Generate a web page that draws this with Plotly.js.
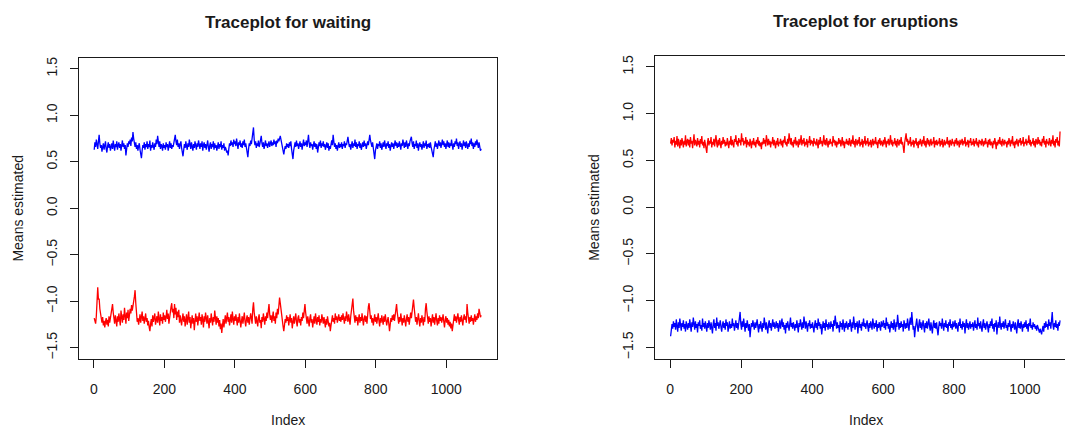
<!DOCTYPE html>
<html>
<head>
<meta charset="utf-8">
<script src="https://cdn.plot.ly/plotly-3.0.1.min.js"></script>
<style>
html,body{margin:0;padding:0;overflow:hidden;background:#fff;width:1065px;height:428px;}
#chart{width:1080px;height:428px;}
</style>
</head>
<body>
<div id="chart"></div>
<script>
// Sampled draws: every 2nd iteration, starting at 1
const indexStart = 1;
const indexStep = 2;

const panelTitles = ["Traceplot for waiting", "Traceplot for eruptions"];
const xTitle = "Index";
const yTitle = "Means estimated";
const xTickVals = [0, 200, 400, 600, 800, 1000];
const yTickVals = [-1.5, -1.0, -0.5, 0.0, 0.5, 1.0, 1.5];

// Waiting: component 1 (blue, upper)
const waitingBlue = [
0.63,0.71,0.66,0.74,0.69,0.64,0.72,0.79,0.70,0.65,0.68,0.61,0.66,0.70,0.63,0.68,0.72,0.64,0.60,0.67,0.71,0.65,0.69,0.62,0.67,
0.70,0.64,0.73,0.67,0.62,0.69,0.66,0.72,0.63,0.68,0.71,0.65,0.69,0.62,0.67,0.73,0.66,0.70,0.64,0.68,0.57,0.63,0.70,0.66,0.72,
0.69,0.74,0.67,0.76,0.72,0.82,0.75,0.70,0.66,0.71,0.64,0.68,0.62,0.67,0.70,0.63,0.60,0.54,0.62,0.68,0.65,0.71,0.63,0.69,0.66,
0.72,0.64,0.69,0.66,0.73,0.62,0.68,0.65,0.71,0.67,0.63,0.70,0.66,0.74,0.69,0.78,0.71,0.66,0.72,0.64,0.69,0.67,0.62,0.70,0.65,
0.68,0.63,0.71,0.66,0.69,0.62,0.67,0.72,0.65,0.70,0.64,0.68,0.66,0.71,0.73,0.79,0.72,0.68,0.74,0.66,0.70,0.64,0.69,0.72,0.65,
0.60,0.56,0.63,0.69,0.65,0.72,0.67,0.63,0.70,0.66,0.74,0.68,0.64,0.71,0.67,0.62,0.69,0.65,0.72,0.68,0.63,0.70,0.66,0.73,0.67,
0.64,0.70,0.66,0.72,0.62,0.68,0.71,0.65,0.69,0.63,0.67,0.73,0.66,0.61,0.68,0.71,0.64,0.69,0.66,0.72,0.63,0.70,0.65,0.68,0.62,
0.67,0.71,0.64,0.69,0.66,0.72,0.63,0.68,0.65,0.70,0.62,0.66,0.64,0.60,0.62,0.57,0.64,0.70,0.67,0.73,0.68,0.71,0.66,0.74,0.69,
0.72,0.67,0.75,0.69,0.64,0.71,0.68,0.73,0.66,0.70,0.65,0.72,0.68,0.74,0.66,0.70,0.63,0.60,0.55,0.64,0.70,0.67,0.73,0.69,0.75,
0.78,0.87,0.74,0.68,0.72,0.65,0.70,0.67,0.73,0.66,0.69,0.72,0.78,0.70,0.66,0.71,0.64,0.68,0.73,0.67,0.70,0.65,0.69,0.72,0.66,
0.70,0.73,0.67,0.71,0.68,0.74,0.69,0.72,0.66,0.73,0.70,0.75,0.72,0.76,0.78,0.74,0.70,0.66,0.62,0.58,0.63,0.67,0.64,0.70,0.66,
0.69,0.65,0.71,0.67,0.72,0.64,0.60,0.53,0.62,0.68,0.71,0.66,0.73,0.67,0.70,0.64,0.69,0.72,0.66,0.70,0.63,0.68,0.74,0.67,0.71,
0.68,0.73,0.66,0.72,0.79,0.70,0.65,0.71,0.67,0.69,0.63,0.68,0.72,0.66,0.70,0.64,0.69,0.60,0.66,0.71,0.67,0.73,0.65,0.70,0.67,
0.72,0.66,0.69,0.63,0.68,0.71,0.65,0.70,0.62,0.67,0.64,0.70,0.73,0.68,0.79,0.72,0.66,0.70,0.64,0.68,0.62,0.67,0.71,0.65,0.69,
0.66,0.71,0.64,0.69,0.67,0.72,0.65,0.70,0.68,0.73,0.77,0.71,0.66,0.69,0.63,0.68,0.72,0.65,0.70,0.67,0.74,0.66,0.71,0.64,0.69,
0.67,0.72,0.65,0.70,0.63,0.68,0.71,0.66,0.73,0.67,0.70,0.64,0.69,0.72,0.68,0.74,0.79,0.73,0.69,0.66,0.71,0.64,0.60,0.53,0.62,
0.66,0.70,0.64,0.69,0.67,0.72,0.65,0.70,0.63,0.68,0.71,0.66,0.73,0.68,0.64,0.70,0.67,0.72,0.65,0.69,0.62,0.67,0.71,0.66,0.70,
0.64,0.69,0.73,0.67,0.71,0.65,0.70,0.66,0.72,0.68,0.63,0.70,0.67,0.74,0.69,0.65,0.71,0.66,0.73,0.68,0.64,0.70,0.67,0.72,0.75,
0.77,0.70,0.66,0.72,0.64,0.69,0.67,0.73,0.65,0.70,0.62,0.68,0.71,0.66,0.69,0.63,0.68,0.72,0.65,0.70,0.67,0.73,0.64,0.69,0.66,
0.70,0.65,0.71,0.66,0.62,0.59,0.55,0.63,0.68,0.72,0.66,0.70,0.64,0.69,0.73,0.67,0.71,0.65,0.69,0.74,0.68,0.72,0.66,0.70,0.64,
0.69,0.73,0.66,0.71,0.65,0.70,0.67,0.74,0.68,0.63,0.70,0.66,0.72,0.69,0.75,0.67,0.71,0.64,0.69,0.72,0.66,0.70,0.63,0.68,0.73,
0.67,0.71,0.65,0.72,0.68,0.64,0.70,0.66,0.73,0.69,0.75,0.67,0.71,0.64,0.70,0.66,0.72,0.68,0.74,0.69,0.65,0.71,0.67,0.62,0.64
];

// Waiting: component 2 (red, lower)
const waitingRed = [
-1.18,-1.20,-1.24,-1.16,-1.05,-0.85,-0.98,-0.97,-1.08,-1.14,-1.19,-1.23,-1.17,-1.26,-1.21,-1.28,-1.22,-1.18,-1.25,-1.20,-1.27,-1.16,-1.23,-1.19,-1.12,
-1.08,-1.03,-1.12,-1.18,-1.24,-1.15,-1.21,-1.27,-1.16,-1.22,-1.13,-1.19,-1.26,-1.10,-1.17,-1.23,-1.14,-1.20,-1.07,-1.16,-1.24,-1.12,-1.18,-1.09,-1.21,
-1.15,-1.08,-1.13,-1.04,-1.10,-1.02,-1.00,-0.95,-0.88,-1.02,-1.16,-1.22,-1.18,-1.25,-1.20,-1.14,-1.23,-1.17,-1.11,-1.21,-1.16,-1.24,-1.19,-1.13,-1.22,
-1.18,-1.26,-1.21,-1.28,-1.32,-1.24,-1.19,-1.27,-1.15,-1.22,-1.18,-1.13,-1.25,-1.20,-1.16,-1.23,-1.11,-1.19,-1.26,-1.14,-1.21,-1.17,-1.24,-1.12,-1.20,
-1.15,-1.22,-1.17,-1.09,-1.19,-1.13,-1.24,-1.16,-1.10,-1.06,-1.02,-1.12,-1.08,-1.18,-1.03,-1.14,-1.07,-1.20,-1.11,-1.17,-1.09,-1.23,-1.15,-1.19,-1.26,
-1.18,-1.13,-1.22,-1.16,-1.27,-1.20,-1.14,-1.25,-1.19,-1.11,-1.23,-1.17,-1.29,-1.21,-1.15,-1.24,-1.18,-1.31,-1.20,-1.13,-1.22,-1.16,-1.26,-1.19,-1.12,
-1.21,-1.17,-1.25,-1.14,-1.20,-1.28,-1.16,-1.22,-1.12,-1.19,-1.24,-1.15,-1.21,-1.29,-1.18,-1.23,-1.13,-1.20,-1.26,-1.17,-1.22,-1.10,-1.19,-1.25,-1.16,
-1.23,-1.18,-1.27,-1.20,-1.30,-1.24,-1.34,-1.26,-1.19,-1.28,-1.21,-1.15,-1.24,-1.18,-1.12,-1.22,-1.17,-1.26,-1.20,-1.14,-1.23,-1.11,-1.19,-1.25,-1.16,
-1.21,-1.14,-1.20,-1.26,-1.17,-1.23,-1.13,-1.19,-1.28,-1.21,-1.16,-1.24,-1.18,-1.12,-1.22,-1.27,-1.19,-1.15,-1.23,-1.17,-1.25,-1.20,-1.13,-1.18,-1.24,
-1.08,-1.01,-1.12,-1.19,-1.24,-1.16,-1.22,-1.27,-1.18,-1.14,-1.23,-1.20,-1.29,-1.17,-1.22,-1.13,-1.19,-1.25,-1.16,-1.21,-1.12,-1.18,-1.10,-1.03,-1.14,
-1.20,-1.15,-1.23,-1.17,-1.11,-1.21,-1.16,-1.24,-1.12,-1.18,-1.08,-1.14,-1.05,-0.96,-1.02,-1.10,-1.16,-1.22,-1.27,-1.32,-1.25,-1.19,-1.23,-1.15,-1.21,
-1.17,-1.26,-1.20,-1.14,-1.23,-1.18,-1.29,-1.21,-1.16,-1.24,-1.19,-1.13,-1.22,-1.27,-1.18,-1.15,-1.23,-1.19,-1.26,-1.17,-1.21,-1.12,-1.18,-1.09,-1.03,
-1.12,-1.19,-1.24,-1.16,-1.22,-1.27,-1.18,-1.14,-1.23,-1.19,-1.28,-1.21,-1.16,-1.24,-1.13,-1.20,-1.25,-1.17,-1.22,-1.15,-1.26,-1.19,-1.23,-1.14,-1.20,
-1.24,-1.17,-1.22,-1.28,-1.19,-1.25,-1.16,-1.21,-1.27,-1.23,-1.32,-1.26,-1.20,-1.15,-1.22,-1.18,-1.24,-1.13,-1.20,-1.16,-1.23,-1.19,-1.14,-1.21,-1.17,
-1.22,-1.15,-1.20,-1.13,-1.19,-1.24,-1.16,-1.21,-1.11,-1.17,-1.22,-1.14,-1.19,-1.25,-1.16,-1.08,-1.03,-0.97,-1.10,-1.18,-1.23,-1.15,-1.21,-1.17,-1.26,
-1.19,-1.14,-1.23,-1.17,-1.21,-1.13,-1.20,-1.26,-1.18,-1.15,-1.22,-1.16,-1.24,-1.10,-1.06,-1.02,-1.11,-1.19,-1.15,-1.23,-1.18,-1.26,-1.20,-1.14,-1.22,
-1.17,-1.24,-1.19,-1.13,-1.21,-1.27,-1.18,-1.23,-1.15,-1.20,-1.25,-1.16,-1.22,-1.14,-1.19,-1.26,-1.21,-1.17,-1.24,-1.32,-1.25,-1.18,-1.22,-1.15,-1.20,
-1.14,-1.21,-1.16,-1.09,-1.03,-1.12,-1.19,-1.24,-1.17,-1.22,-1.13,-1.20,-1.26,-1.18,-1.23,-1.15,-1.21,-1.27,-1.19,-1.14,-1.22,-1.17,-1.25,-1.20,-1.12,
-1.18,-1.08,-1.02,-0.98,-1.07,-1.16,-1.22,-1.17,-1.25,-1.19,-1.13,-1.21,-1.27,-1.18,-1.23,-1.15,-1.20,-1.26,-1.17,-1.22,-1.08,-1.02,-1.11,-1.19,-1.24,
-1.16,-1.22,-1.18,-1.27,-1.20,-1.14,-1.23,-1.17,-1.25,-1.19,-1.13,-1.21,-1.26,-1.18,-1.24,-1.15,-1.21,-1.17,-1.23,-1.19,-1.14,-1.22,-1.28,-1.20,-1.16,
-1.23,-1.18,-1.25,-1.20,-1.27,-1.22,-1.29,-1.24,-1.32,-1.25,-1.19,-1.14,-1.21,-1.16,-1.23,-1.18,-1.13,-1.20,-1.25,-1.17,-1.22,-1.15,-1.21,-1.26,-1.18,
-1.14,-1.20,-1.16,-1.23,-1.03,-1.12,-1.19,-1.24,-1.17,-1.22,-1.15,-1.21,-1.18,-1.25,-1.19,-1.14,-1.22,-1.16,-1.20,-1.13,-1.18,-1.08,-1.12,-1.17,-1.15
];

// Eruptions: component 1 (red, upper)
const eruptionsRed = [
0.68,0.74,0.66,0.72,0.69,0.75,0.64,0.71,0.67,0.76,0.65,0.73,0.68,0.63,0.72,0.66,0.74,0.69,0.64,0.71,0.67,0.77,0.65,0.70,0.73,
0.66,0.72,0.64,0.75,0.68,0.71,0.63,0.70,0.78,0.66,0.72,0.69,0.65,0.74,0.67,0.71,0.64,0.73,0.68,0.76,0.66,0.70,0.63,0.72,0.67,
0.64,0.58,0.69,0.74,0.66,0.71,0.68,0.75,0.64,0.70,0.67,0.73,0.65,0.71,0.77,0.68,0.64,0.72,0.66,0.74,0.69,0.63,0.71,0.67,0.75,
0.68,0.72,0.65,0.70,0.66,0.74,0.69,0.63,0.71,0.67,0.76,0.66,0.72,0.68,0.64,0.73,0.70,0.77,0.67,0.71,0.65,0.74,0.69,0.72,0.66,
0.79,0.70,0.74,0.66,0.71,0.68,0.75,0.64,0.72,0.67,0.70,0.65,0.73,0.69,0.63,0.71,0.67,0.74,0.66,0.70,0.64,0.72,0.68,0.75,0.66,
0.71,0.65,0.69,0.62,0.70,0.67,0.74,0.68,0.72,0.65,0.77,0.69,0.66,0.73,0.67,0.71,0.64,0.70,0.68,0.75,0.66,0.72,0.69,0.63,0.71,
0.67,0.74,0.65,0.70,0.68,0.73,0.66,0.71,0.64,0.72,0.69,0.76,0.67,0.70,0.65,0.73,0.68,0.79,0.71,0.67,0.74,0.66,0.70,0.64,0.72,
0.68,0.75,0.66,0.71,0.69,0.64,0.73,0.67,0.70,0.77,0.66,0.72,0.68,0.74,0.65,0.70,0.67,0.73,0.64,0.71,0.69,0.76,0.66,0.72,0.68,
0.71,0.65,0.74,0.68,0.70,0.66,0.73,0.69,0.63,0.72,0.67,0.75,0.68,0.71,0.65,0.70,0.77,0.67,0.72,0.66,0.74,0.69,0.64,0.71,0.67,
0.73,0.68,0.70,0.65,0.76,0.69,0.72,0.66,0.71,0.64,0.70,0.67,0.74,0.68,0.72,0.65,0.69,0.75,0.66,0.71,0.63,0.70,0.68,0.73,0.67,
0.71,0.66,0.74,0.69,0.65,0.72,0.68,0.77,0.67,0.71,0.64,0.73,0.69,0.66,0.72,0.68,0.75,0.65,0.70,0.67,0.73,0.64,0.71,0.68,0.76,
0.66,0.71,0.68,0.74,0.65,0.70,0.67,0.72,0.64,0.69,0.73,0.66,0.71,0.68,0.75,0.67,0.70,0.63,0.72,0.68,0.74,0.66,0.71,0.69,0.65,
0.72,0.67,0.75,0.69,0.64,0.71,0.68,0.73,0.66,0.70,0.77,0.67,0.72,0.65,0.70,0.68,0.74,0.66,0.71,0.64,0.73,0.69,0.66,0.72,0.68,
0.75,0.67,0.70,0.64,0.58,0.69,0.74,0.79,0.70,0.73,0.66,0.71,0.68,0.75,0.65,0.70,0.67,0.72,0.64,0.71,0.68,0.74,0.66,0.70,0.63,
0.71,0.67,0.73,0.69,0.65,0.72,0.68,0.76,0.66,0.71,0.64,0.70,0.74,0.67,0.72,0.65,0.69,0.73,0.66,0.70,0.68,0.75,0.64,0.71,0.67,
0.72,0.66,0.70,0.68,0.74,0.65,0.71,0.67,0.73,0.64,0.69,0.72,0.66,0.70,0.68,0.75,0.67,0.71,0.64,0.72,0.69,0.66,0.73,0.68,0.70,
0.65,0.72,0.68,0.74,0.66,0.71,0.69,0.64,0.72,0.67,0.70,0.73,0.66,0.71,0.68,0.75,0.65,0.70,0.67,0.72,0.64,0.71,0.69,0.74,0.66,
0.70,0.67,0.73,0.65,0.71,0.68,0.74,0.66,0.70,0.64,0.72,0.68,0.71,0.66,0.73,0.69,0.65,0.71,0.67,0.74,0.68,0.70,0.64,0.72,0.67,
0.73,0.66,0.70,0.68,0.63,0.71,0.67,0.74,0.69,0.62,0.70,0.66,0.72,0.68,0.75,0.67,0.71,0.65,0.73,0.69,0.66,0.72,0.68,0.70,0.64,
0.71,0.67,0.74,0.69,0.65,0.72,0.68,0.76,0.66,0.70,0.63,0.71,0.67,0.73,0.68,0.65,0.72,0.69,0.74,0.66,0.71,0.68,0.75,0.65,0.70,
0.68,0.73,0.66,0.71,0.69,0.77,0.67,0.72,0.65,0.70,0.68,0.74,0.66,0.71,0.64,0.73,0.69,0.67,0.75,0.68,0.72,0.66,0.70,0.65,0.73,
0.69,0.76,0.67,0.71,0.64,0.73,0.68,0.70,0.66,0.74,0.69,0.65,0.72,0.68,0.77,0.66,0.71,0.64,0.73,0.69,0.75,0.66,0.71,0.65,0.81
];

// Eruptions: component 2 (blue, lower)
const eruptionsBlue = [
-1.38,-1.33,-1.25,-1.30,-1.22,-1.28,-1.24,-1.31,-1.20,-1.27,-1.33,-1.23,-1.29,-1.19,-1.26,-1.32,-1.24,-1.28,-1.21,-1.30,-1.25,-1.33,-1.22,-1.27,-1.31,
-1.24,-1.29,-1.20,-1.27,-1.33,-1.23,-1.28,-1.18,-1.26,-1.31,-1.22,-1.29,-1.25,-1.34,-1.23,-1.27,-1.21,-1.30,-1.26,-1.32,-1.19,-1.28,-1.24,-1.30,-1.22,
-1.27,-1.33,-1.24,-1.29,-1.21,-1.26,-1.31,-1.23,-1.28,-1.35,-1.25,-1.20,-1.29,-1.24,-1.32,-1.18,-1.27,-1.23,-1.30,-1.25,-1.21,-1.28,-1.33,-1.26,-1.22,
-1.29,-1.24,-1.31,-1.20,-1.27,-1.23,-1.33,-1.26,-1.22,-1.30,-1.25,-1.29,-1.19,-1.27,-1.24,-1.32,-1.26,-1.21,-1.29,-1.24,-1.31,-1.23,-1.18,-1.12,-1.25,
-1.31,-1.22,-1.28,-1.19,-1.26,-1.33,-1.24,-1.29,-1.21,-1.27,-1.32,-1.25,-1.39,-1.30,-1.24,-1.28,-1.21,-1.26,-1.31,-1.23,-1.29,-1.25,-1.20,-1.28,-1.34,
-1.25,-1.30,-1.22,-1.27,-1.33,-1.24,-1.29,-1.18,-1.26,-1.31,-1.23,-1.28,-1.35,-1.25,-1.21,-1.29,-1.24,-1.32,-1.27,-1.20,-1.28,-1.23,-1.30,-1.26,-1.22,
-1.29,-1.24,-1.33,-1.27,-1.21,-1.30,-1.25,-1.19,-1.28,-1.23,-1.31,-1.26,-1.35,-1.24,-1.29,-1.22,-1.27,-1.32,-1.25,-1.18,-1.28,-1.24,-1.30,-1.23,-1.27,
-1.32,-1.25,-1.29,-1.21,-1.27,-1.34,-1.24,-1.28,-1.20,-1.26,-1.31,-1.23,-1.29,-1.17,-1.25,-1.30,-1.22,-1.28,-1.33,-1.24,-1.27,-1.21,-1.30,-1.25,-1.29,
-1.23,-1.28,-1.34,-1.26,-1.21,-1.29,-1.24,-1.31,-1.19,-1.27,-1.23,-1.30,-1.25,-1.36,-1.27,-1.22,-1.29,-1.24,-1.32,-1.20,-1.28,-1.25,-1.31,-1.23,-1.27,
-1.30,-1.22,-1.28,-1.25,-1.33,-1.21,-1.27,-1.16,-1.25,-1.30,-1.23,-1.29,-1.26,-1.34,-1.22,-1.28,-1.24,-1.31,-1.20,-1.27,-1.33,-1.24,-1.29,-1.22,-1.26,
-1.31,-1.24,-1.28,-1.20,-1.27,-1.33,-1.23,-1.29,-1.17,-1.26,-1.31,-1.24,-1.28,-1.22,-1.35,-1.26,-1.21,-1.29,-1.25,-1.32,-1.23,-1.27,-1.19,-1.28,-1.24,
-1.30,-1.25,-1.21,-1.28,-1.33,-1.24,-1.29,-1.22,-1.27,-1.31,-1.19,-1.26,-1.30,-1.24,-1.28,-1.21,-1.33,-1.25,-1.29,-1.23,-1.27,-1.32,-1.22,-1.28,-1.25,
-1.21,-1.29,-1.24,-1.31,-1.18,-1.27,-1.23,-1.30,-1.25,-1.34,-1.26,-1.22,-1.29,-1.24,-1.31,-1.20,-1.27,-1.33,-1.23,-1.28,-1.15,-1.26,-1.31,-1.24,-1.29,
-1.22,-1.28,-1.25,-1.33,-1.21,-1.27,-1.30,-1.24,-1.29,-1.19,-1.27,-1.32,-1.23,-1.18,-1.26,-1.12,-1.22,-1.31,-1.27,-1.39,-1.30,-1.24,-1.19,-1.28,-1.33,
-1.25,-1.20,-1.29,-1.23,-1.31,-1.26,-1.21,-1.28,-1.34,-1.24,-1.29,-1.22,-1.30,-1.25,-1.19,-1.27,-1.32,-1.23,-1.28,-1.35,-1.26,-1.21,-1.29,-1.24,-1.30,
-1.23,-1.31,-1.37,-1.28,-1.22,-1.27,-1.24,-1.30,-1.19,-1.26,-1.32,-1.24,-1.28,-1.21,-1.29,-1.25,-1.33,-1.23,-1.27,-1.20,-1.29,-1.25,-1.31,-1.22,-1.28,
-1.26,-1.21,-1.30,-1.24,-1.28,-1.33,-1.23,-1.27,-1.19,-1.29,-1.25,-1.31,-1.22,-1.28,-1.24,-1.35,-1.26,-1.20,-1.29,-1.24,-1.31,-1.27,-1.22,-1.30,-1.25,
-1.28,-1.23,-1.32,-1.26,-1.21,-1.29,-1.25,-1.31,-1.18,-1.27,-1.24,-1.30,-1.22,-1.28,-1.33,-1.25,-1.20,-1.29,-1.24,-1.31,-1.26,-1.22,-1.28,-1.34,-1.25,
-1.29,-1.22,-1.27,-1.19,-1.30,-1.25,-1.33,-1.24,-1.28,-1.21,-1.36,-1.27,-1.23,-1.29,-1.17,-1.26,-1.31,-1.24,-1.28,-1.22,-1.30,-1.25,-1.20,-1.29,-1.26,
-1.32,-1.24,-1.28,-1.21,-1.27,-1.33,-1.25,-1.29,-1.22,-1.26,-1.31,-1.23,-1.28,-1.35,-1.25,-1.20,-1.29,-1.24,-1.30,-1.22,-1.27,-1.33,-1.25,-1.29,-1.23,
-1.28,-1.21,-1.30,-1.25,-1.33,-1.24,-1.27,-1.19,-1.29,-1.26,-1.31,-1.23,-1.28,-1.25,-1.30,-1.27,-1.32,-1.26,-1.29,-1.31,-1.34,-1.30,-1.35,-1.36,-1.31,
-1.27,-1.33,-1.24,-1.29,-1.22,-1.28,-1.25,-1.31,-1.20,-1.27,-1.23,-1.30,-1.18,-1.12,-1.26,-1.31,-1.24,-1.28,-1.21,-1.29,-1.25,-1.32,-1.23,-1.27,-1.21
];

const BLUE = "#0000FF", RED = "#FF0000";
const FONT = "Liberation Sans, Arial, Helvetica, sans-serif";
const INK = "#1a1a1a";

function idx(arr){ return arr.map((_, i) => indexStart + i * indexStep); }

const W = 1080, H = 428;
const px = v => v / W;
const py = v => (H - v) / H;

function line(x, y, xa, ya, color){
  return {x: x, y: y, xaxis: xa, yaxis: ya, type: "scatter", mode: "lines",
    line: {color: color, width: 1.3}, hoverinfo: "skip"};
}

const traces = [
  line(idx(waitingBlue), waitingBlue, "x", "y", BLUE),
  line(idx(waitingRed), waitingRed, "x", "y", RED),
  line(idx(eruptionsRed), eruptionsRed, "x2", "y2", RED),
  line(idx(eruptionsBlue), eruptionsBlue, "x2", "y2", BLUE)
];

function xAxis(domain, anchor){
  return {domain: domain, anchor: anchor, range: [-43, 1144], tickvals: xTickVals,
    showgrid: false, zeroline: false, showline: true, mirror: true, linecolor: INK, linewidth: 1,
    ticks: "outside", ticklen: 8, tickwidth: 1, tickcolor: INK, ticklabelstandoff: 9,
    tickfont: {family: FONT, size: 14, color: INK}};
}
function yAxis(domain, anchor){
  return {domain: domain, anchor: anchor, range: [-1.62, 1.62], tickvals: yTickVals, tickformat: ".1f",
    showgrid: false, zeroline: false, showline: true, mirror: true, linecolor: INK, linewidth: 1,
    ticks: "outside", ticklen: 8, tickwidth: 1, tickcolor: INK, tickangle: -90, ticklabelstandoff: 7,
    tickfont: {family: FONT, size: 14, color: INK}};
}

function ann(text, x, y, size, bold, angle){
  return {text: bold ? "<b>" + text + "</b>" : text, xref: "paper", yref: "paper",
    x: px(x), y: py(y), xanchor: "center", yanchor: "middle", showarrow: false,
    textangle: angle || 0, font: {family: FONT, size: size, color: INK}};
}

const layout = {
  width: W, height: H, margin: {l: 0, r: 0, t: 0, b: 0},
  paper_bgcolor: "#fff", plot_bgcolor: "#fff", showlegend: false,
  xaxis: xAxis([px(78.7), px(497)], "y"),
  yaxis: yAxis([py(359), py(57.7)], "x"),
  xaxis2: xAxis([px(655), px(1076)], "y2"),
  yaxis2: yAxis([py(358.7), py(55.7)], "x2"),
  annotations: [
    ann(panelTitles[0], 288, 23, 17, true),
    ann(panelTitles[1], 865.5, 21, 17, true),
    ann(xTitle, 288, 420, 14, false),
    ann(xTitle, 865.5, 420, 14, false),
    ann(yTitle, 18.3, 208.3, 14, false, -90),
    ann(yTitle, 593.3, 207.5, 14, false, -90)
  ]
};

Plotly.newPlot("chart", traces, layout, {staticPlot: true, displayModeBar: false});
</script>
</body>
</html>
